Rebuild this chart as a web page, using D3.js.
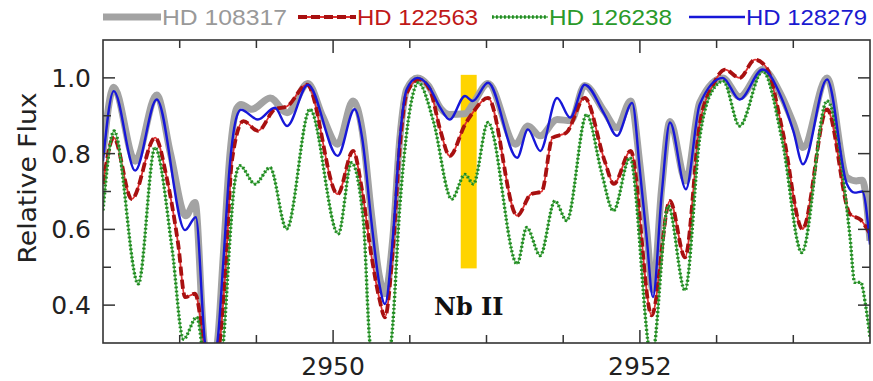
<!DOCTYPE html>
<html>
<head>
<meta charset="utf-8">
<script src="https://cdn.jsdelivr.net/npm/d3@7"></script>
<style>
  html, body { margin: 0; padding: 0; background: #fff; }
  svg { display: block; }
</style>
</head>
<body>
<svg id="chart" width="873" height="381"></svg>
<script>
// Normalised spectra around the Nb II 2950.88 A line
const wl108317 = [2948.50, 2948.57, 2948.71, 2948.85, 2948.94, 2949.04, 2949.10, 2949.16, 2949.20, 2949.245, 2949.284, 2949.328, 2949.372, 2949.40, 2949.47, 2949.59, 2949.70, 2949.836, 2949.93, 2950.03, 2950.13, 2950.19, 2950.25, 2950.30, 2950.338, 2950.39, 2950.435, 2950.48, 2950.55, 2950.62, 2950.70, 2950.76, 2950.86, 2950.91, 2951.01, 2951.19, 2951.27, 2951.35, 2951.46, 2951.55, 2951.64, 2951.77, 2951.85, 2951.94, 2952.00, 2952.044, 2952.085, 2952.142, 2952.196, 2952.30, 2952.39, 2952.54, 2952.65, 2952.80, 2952.92, 2953.00, 2953.063, 2953.22, 2953.35, 2953.41, 2953.45, 2953.50];
const fx108317 = [0.80, 0.975, 0.78, 0.955, 0.80, 0.636, 0.671, 0.30, 0.24, 0.30, 0.53, 0.80, 0.92, 0.93, 0.917, 0.947, 0.908, 0.985, 0.90, 0.825, 0.939, 0.86, 0.64, 0.48, 0.43, 0.58, 0.84, 0.97, 1.0, 0.98, 0.92, 0.903, 0.905, 0.93, 0.985, 0.825, 0.873, 0.847, 0.89, 0.887, 0.98, 0.91, 0.868, 0.939, 0.77, 0.60, 0.44, 0.71, 0.885, 0.728, 0.935, 1.0, 0.95, 1.022, 0.955, 0.88, 0.816, 1.0, 0.737, 0.728, 0.73, 0.57];

const wl122563 = [2948.50, 2948.57, 2948.687, 2948.84, 2948.915, 2948.99, 2949.035, 2949.10, 2949.17, 2949.21, 2949.26, 2949.30, 2949.34, 2949.415, 2949.51, 2949.62, 2949.70, 2949.83, 2950.03, 2950.13, 2950.19, 2950.25, 2950.30, 2950.338, 2950.39, 2950.435, 2950.48, 2950.56, 2950.63, 2950.70, 2950.76, 2950.86, 2950.91, 2951.01, 2951.20, 2951.29, 2951.36, 2951.43, 2951.52, 2951.64, 2951.77, 2951.83, 2951.94, 2952.077, 2952.196, 2952.294, 2952.39, 2952.478, 2952.555, 2952.65, 2952.75, 2952.827, 2952.93, 2953.06, 2953.22, 2953.37, 2953.44, 2953.50];
const fx122563 = [0.72, 0.842, 0.68, 0.842, 0.737, 0.561, 0.421, 0.43, 0.27, 0.22, 0.30, 0.50, 0.78, 0.886, 0.86, 0.917, 0.925, 0.982, 0.693, 0.807, 0.70, 0.53, 0.42, 0.368, 0.55, 0.82, 0.96, 0.996, 0.97, 0.86, 0.794, 0.877, 0.908, 0.947, 0.636, 0.693, 0.70, 0.842, 0.855, 0.947, 0.781, 0.72, 0.807, 0.373, 0.675, 0.526, 0.877, 0.982, 1.022, 1.0, 1.048, 1.026, 0.86, 0.601, 0.917, 0.64, 0.625, 0.588];

const wl126238 = [2948.50, 2948.572, 2948.73, 2948.839, 2948.95, 2949.024, 2949.111, 2949.17, 2949.22, 2949.27, 2949.295, 2949.328, 2949.36, 2949.393, 2949.491, 2949.589, 2949.697, 2949.849, 2950.034, 2950.12, 2950.197, 2950.24, 2950.31, 2950.382, 2950.436, 2950.49, 2950.556, 2950.653, 2950.773, 2950.86, 2950.914, 2951.01, 2951.20, 2951.262, 2951.35, 2951.446, 2951.523, 2951.653, 2951.75, 2951.827, 2951.935, 2952.077, 2952.185, 2952.294, 2952.39, 2952.47, 2952.544, 2952.65, 2952.80, 2952.93, 2953.055, 2953.22, 2953.37, 2953.40, 2953.44, 2953.47, 2953.50];
const fx126238 = [0.65, 0.86, 0.456, 0.816, 0.55, 0.31, 0.368, 0.22, 0.18, 0.24, 0.36, 0.579, 0.728, 0.768, 0.72, 0.763, 0.601, 0.917, 0.588, 0.776, 0.624, 0.30, 0.18, 0.316, 0.667, 0.887, 0.987, 0.887, 0.68, 0.745, 0.72, 0.882, 0.509, 0.605, 0.531, 0.675, 0.623, 0.903, 0.75, 0.649, 0.789, 0.26, 0.662, 0.439, 0.842, 0.965, 0.991, 0.873, 1.018, 0.83, 0.539, 0.939, 0.579, 0.46, 0.46, 0.403, 0.316];

const wl128279 = [2948.50, 2948.57, 2948.71, 2948.85, 2949.035, 2949.105, 2949.165, 2949.20, 2949.245, 2949.284, 2949.328, 2949.372, 2949.40, 2949.51, 2949.62, 2949.70, 2949.836, 2950.03, 2950.14, 2950.19, 2950.25, 2950.30, 2950.338, 2950.39, 2950.435, 2950.48, 2950.55, 2950.62, 2950.70, 2950.76, 2950.86, 2950.91, 2951.01, 2951.20, 2951.27, 2951.35, 2951.46, 2951.545, 2951.64, 2951.77, 2951.85, 2951.95, 2952.00, 2952.044, 2952.085, 2952.142, 2952.196, 2952.30, 2952.39, 2952.54, 2952.65, 2952.80, 2952.92, 2953.00, 2953.063, 2953.22, 2953.35, 2953.40, 2953.45, 2953.50];
const fx128279 = [0.78, 0.965, 0.755, 0.943, 0.598, 0.632, 0.30, 0.24, 0.30, 0.513, 0.776, 0.898, 0.916, 0.89, 0.921, 0.873, 0.982, 0.794, 0.917, 0.84, 0.62, 0.46, 0.403, 0.58, 0.84, 0.97, 1.0, 0.98, 0.92, 0.89, 0.952, 0.939, 0.987, 0.789, 0.864, 0.807, 0.947, 0.895, 0.982, 0.903, 0.847, 0.934, 0.755, 0.579, 0.421, 0.693, 0.882, 0.706, 0.93, 1.0, 0.943, 1.022, 0.95, 0.86, 0.772, 0.996, 0.719, 0.697, 0.70, 0.56];

const starNames = ["HD 108317", "HD 122563", "HD 126238", "HD 128279"];
const xTickLabels = [2950, 2952];
const yTickLabels = [0.4, 0.6, 0.8, 1.0];
const nbBand = [2950.832, 2950.936];
const nbBandFlux = [0.497, 1.008];
const nbLabel = "Nb II";

const svg = d3.select("#chart");
const margin = { top: 40, right: 3, bottom: 38, left: 103 };
const W = 873, H = 381;
const iw = W - margin.left - margin.right;
const ih = H - margin.top - margin.bottom;

const x = d3.scaleLinear().domain([2948.5, 2953.5]).range([margin.left, margin.left + iw]);
const y = d3.scaleLinear().domain([0.3, 1.1]).range([margin.top + ih, margin.top]);

const series = [
  { name: starNames[0], wl: wl108317, fx: fx108317 },
  { name: starNames[1], wl: wl122563, fx: fx122563 },
  { name: starNames[2], wl: wl126238, fx: fx126238 },
  { name: starNames[3], wl: wl128279, fx: fx128279 }
];

svg.append("defs").append("clipPath").attr("id", "plotClip")
  .append("rect")
  .attr("x", margin.left).attr("y", margin.top)
  .attr("width", iw).attr("height", ih);

// Nb II line marker
svg.append("rect")
  .attr("x", x(nbBand[0]))
  .attr("width", x(nbBand[1]) - x(nbBand[0]))
  .attr("y", y(nbBandFlux[1]))
  .attr("height", y(nbBandFlux[0]) - y(nbBandFlux[1]))
  .attr("fill", "#ffd400");

svg.append("text")
  .attr("x", x((nbBand[0] + nbBand[1]) / 2))
  .attr("y", 315)
  .attr("text-anchor", "middle")
  .attr("font-family", "DejaVu Serif")
  .attr("font-weight", "bold")
  .attr("font-size", 24)
  .attr("fill", "#111")
  .text(nbLabel);

const line = d3.line()
  .x(d => x(d[0]))
  .y(d => y(d[1]))
  .curve(d3.curveMonotoneX);

const pts = s => s.wl.map((w, i) => [w, s.fx[i]]);

const g = svg.append("g").attr("clip-path", "url(#plotClip)");

// HD 108317: thick grey
g.append("path").attr("d", line(pts(series[0])))
  .attr("fill", "none").attr("stroke", "#a3a3a3").attr("stroke-width", 7)
  .attr("stroke-linejoin", "round");

// HD 122563: red dashed
g.append("path").attr("d", line(pts(series[1])))
  .attr("fill", "none").attr("stroke", "#e03030").attr("stroke-width", 1.8);
g.append("path").attr("d", line(pts(series[1])))
  .attr("fill", "none").attr("stroke", "#a81010").attr("stroke-width", 3.8)
  .attr("stroke-dasharray", "9 4");

// HD 126238: green dotted
g.append("path").attr("d", line(pts(series[2])))
  .attr("fill", "none").attr("stroke", "#55b055").attr("stroke-width", 1.5);
g.append("path").attr("d", line(pts(series[2])))
  .attr("fill", "none").attr("stroke", "#1f8a1f").attr("stroke-width", 3.4)
  .attr("stroke-dasharray", "1.8 2.2");

// HD 128279: blue solid
g.append("path").attr("d", line(pts(series[3])))
  .attr("fill", "none").attr("stroke", "#1717d8").attr("stroke-width", 2.4)
  .attr("stroke-linejoin", "round");

// Frame and ticks
const axisColor = "#333";
svg.append("rect")
  .attr("x", margin.left).attr("y", margin.top)
  .attr("width", iw).attr("height", ih)
  .attr("fill", "none").attr("stroke", axisColor).attr("stroke-width", 1.6);

const xMinor = d3.range(2948.5, 2953.51, 0.5);
const yMinor = d3.range(0.3, 1.101, 0.1);
const isMajorX = v => Math.abs(v - Math.round(v)) < 1e-6 && Math.round(v) % 2 === 0;
const isMajorY = v => Math.abs(v * 5 - Math.round(v * 5)) < 1e-6;

const ticks = svg.append("g").attr("stroke", axisColor).attr("stroke-width", 1.5);
xMinor.forEach(v => {
  if (v <= 2948.5 + 1e-6 || v >= 2953.5 - 1e-6) return;
  const len = isMajorX(v) ? 13 : 8;
  ticks.append("line").attr("x1", x(v)).attr("x2", x(v))
    .attr("y1", y(0.3)).attr("y2", y(0.3) - len);
  ticks.append("line").attr("x1", x(v)).attr("x2", x(v))
    .attr("y1", y(1.1)).attr("y2", y(1.1) + len);
});
yMinor.forEach(v => {
  if (v <= 0.3 + 1e-6 || v >= 1.1 - 1e-6) return;
  const len = isMajorY(v) ? 12 : 8;
  ticks.append("line").attr("y1", y(v)).attr("y2", y(v))
    .attr("x1", x(2948.5)).attr("x2", x(2948.5) + len);
  ticks.append("line").attr("y1", y(v)).attr("y2", y(v))
    .attr("x1", x(2953.5)).attr("x2", x(2953.5) - len);
});

// Tick labels
svg.append("g").selectAll("text").data(xTickLabels).join("text")
  .attr("x", d => x(d)).attr("y", 375)
  .attr("text-anchor", "middle")
  .attr("font-family", "DejaVu Sans").attr("font-size", 25)
  .attr("fill", "#222")
  .text(d => d);

svg.append("g").selectAll("text").data(yTickLabels).join("text")
  .attr("x", 91).attr("y", d => y(d)).attr("dy", "0.36em")
  .attr("text-anchor", "end")
  .attr("font-family", "DejaVu Sans").attr("font-size", 25)
  .attr("fill", "#222")
  .text(d => d.toFixed(1));

svg.append("text")
  .attr("transform", "translate(36,178) rotate(-90)")
  .attr("text-anchor", "middle")
  .attr("font-family", "DejaVu Sans").attr("font-size", 24)
  .attr("textLength", 171).attr("lengthAdjust", "spacingAndGlyphs")
  .attr("fill", "#222")
  .text("Relative Flux");

// Legend
const legendItems = [
  { label: starNames[0], color: "#999999", x0: 103, x1: 161, tx: 162, tw: 125 },
  { label: starNames[1], color: "#c01818", x0: 298, x1: 356, tx: 357, tw: 121 },
  { label: starNames[2], color: "#2a9a2a", x0: 492, x1: 548, tx: 549, tw: 123 },
  { label: starNames[3], color: "#1a1ad0", x0: 689, x1: 745, tx: 746, tw: 121 }
];
const lg = svg.append("g");
legendItems.forEach((it, i) => {
  const ly = 17;
  if (i === 0) {
    lg.append("line").attr("x1", it.x0).attr("x2", it.x1).attr("y1", ly).attr("y2", ly)
      .attr("stroke", "#a3a3a3").attr("stroke-width", 7);
  } else if (i === 1) {
    lg.append("line").attr("x1", it.x0).attr("x2", it.x1).attr("y1", ly).attr("y2", ly)
      .attr("stroke", "#e03030").attr("stroke-width", 1.8);
    lg.append("line").attr("x1", it.x0).attr("x2", it.x1).attr("y1", ly).attr("y2", ly)
      .attr("stroke", "#a81010").attr("stroke-width", 3.8).attr("stroke-dasharray", "9 4");
  } else if (i === 2) {
    lg.append("line").attr("x1", it.x0).attr("x2", it.x1).attr("y1", ly).attr("y2", ly)
      .attr("stroke", "#55b055").attr("stroke-width", 1.5);
    lg.append("line").attr("x1", it.x0).attr("x2", it.x1).attr("y1", ly).attr("y2", ly)
      .attr("stroke", "#1f8a1f").attr("stroke-width", 3.4).attr("stroke-dasharray", "1.8 2.2");
  } else {
    lg.append("line").attr("x1", it.x0).attr("x2", it.x1).attr("y1", ly).attr("y2", ly)
      .attr("stroke", "#1717d8").attr("stroke-width", 2.4);
  }
  lg.append("text")
    .attr("x", it.tx).attr("y", 25)
    .attr("font-family", "Liberation Sans Narrow, Liberation Sans").attr("font-size", 22)
    .attr("textLength", it.tw).attr("lengthAdjust", "spacingAndGlyphs")
    .attr("fill", it.color)
    .text(it.label);
});
</script>
</body>
</html>
